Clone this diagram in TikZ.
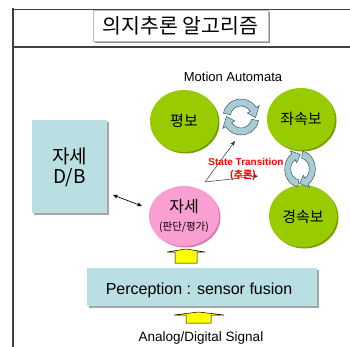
\documentclass[tikz,border=0pt]{standalone}
\usepackage{fontspec}
\setmainfont{Liberation Sans}
\newfontfamily\kr{Noto Sans CJK KR}
\usetikzlibrary{arrows.meta,shapes.geometric}
\definecolor{grn}{HTML}{99CC00}
\definecolor{grnd}{HTML}{7A9E00}
\definecolor{pnk}{HTML}{FA9FD2}
\definecolor{pnkd}{HTML}{D97AAE}
\definecolor{cyanbox}{HTML}{B9DFE3}
\definecolor{cycfill}{HTML}{A9CBD4}
\definecolor{cycline}{HTML}{3A5560}
\definecolor{ylw}{HTML}{FFFF00}
\definecolor{frame}{HTML}{404040}
\newcommand\cycarrow[5]{%
  \filldraw[cyc] (#1:#4) arc[start angle=#1, end angle=#2, radius=#4]
    -- (#2:{#4+3.5}) -- (#5:{(#3+#4)/2}) -- (#2:{#3-3.5}) -- (#2:#3)
    arc[start angle=#2, end angle=#1, radius=#3] -- cycle;}
\tikzset{
  ball/.style={ellipse, minimum width=68pt, minimum height=62pt, inner sep=0pt},
  cyc/.style={fill=cycfill, draw=cycline, line width=0.5pt},
  blk/.style={fill=ylw, draw=black, line width=0.5pt},
  thin arrow/.style={draw=black!80, line width=0.5pt, -{Stealth[length=5pt,width=4pt]}},
}
\begin{document}
\begin{tikzpicture}[x=1pt,y=-1pt]
\useasboundingbox (0,0) rectangle (350,347);
\fill[white] (0,0) rectangle (350,347);
% frame
\draw[frame, line width=0.8pt] (12,9) -- (350,9);
\draw[frame, line width=1.3pt] (12,47) -- (350,47);
\draw[frame, line width=2pt] (12.5,8.5) -- (12.5,347);
% title
\fill[black!45] (95,12) rectangle (270,43);
\filldraw[fill=white, draw=black!25, line width=0.6pt] (93,10) rectangle (268,41);
\node[font=\kr\fontsize{20.5}{21}\selectfont] (title) at (180.5,26) {의지추론 알고리즘};
% D/B box
\fill[black!35] (34,122) rectangle (109,215);
\fill[cyanbox] (32,120) rectangle (107,213);
\node[align=center, font=\kr\fontsize{19}{22}\selectfont] (db) at (69.5,167) {자세\\[-2pt]D/B};
% perception box
\fill[black!35] (89,270) rectangle (319,308);
\fill[cyanbox] (87,268) rectangle (317,306);
\node[font=\fontsize{16}{17}\selectfont] (perc) at (199,290) {Perception : sensor fusion};
% circles
\foreach \cx/\cy in {184/121, 301/119, 303/216}{
  \fill[grnd] (\cx+1.5,\cy+1.5) ellipse[x radius=34, y radius=31];
  \fill[grn] (\cx,\cy) ellipse[x radius=34, y radius=31];
}
\fill[pnkd] (185.5,217.5) ellipse[x radius=35, y radius=30];
\fill[pnk] (184,216) ellipse[x radius=35, y radius=30];
\node[ball, font=\kr\fontsize{15}{16}\selectfont] (pb) at (184,121) {평보};
\node[ball, font=\kr\fontsize{15}{16}\selectfont] (jsb) at (301,119) {좌속보};
\node[ball, font=\kr\fontsize{15}{16}\selectfont] (gsb) at (303,217) {경속보};
\node[ball, align=center, font=\kr\fontsize{16}{17}\selectfont] (pose) at (184,216) {자세\\[1pt]{\fontsize{10.5}{11}\selectfont (판단/평가)}};
% motion automata
\node[font=\fontsize{13}{14}\selectfont] (ma) at (233,77) {Motion Automata};
% cycle arrows horizontal
\begin{scope}[shift={(241,117)}, yscale=-1]
  \cycarrow{168}{32}{11}{18}{-2}
  \cycarrow{-12}{-148}{11}{18}{178}
\end{scope}
% cycle arrows vertical
\begin{scope}[shift={(300,169)}, yscale=-1, xscale=0.85]
  \cycarrow{262}{122}{11}{18}{88}
  \cycarrow{80}{-58}{11}{18}{-92}
\end{scope}
% state transition
\coordinate (st0) at (205,182);
\coordinate (st1) at (235,141);
\coordinate (st2) at (258,176);
\draw[thin arrow] (st0) -- (st1);
\draw[thin arrow] (st0) -- (st2);
\node[red, font=\bfseries\fontsize{10}{11}\selectfont] (st) at (246,162) {State Transition};
\node[red, font=\kr\bfseries\fontsize{10}{11}\selectfont] (stk) at (243,175) {(추론)};
% DB <-> pose
\coordinate (dbend) at (113,195);
\coordinate (poseend) at (142,206);
\draw[draw=black, line width=0.7pt, {Stealth[length=5pt,width=4pt]}-{Stealth[length=5pt,width=4pt]}] (dbend) -- (poseend);
% yellow block arrows
\filldraw[blk] (175,263) -- (175,252) -- (167,252) -- (186,249) -- (205,252) -- (197,252) -- (197,263) -- cycle;
\filldraw[blk] (186,323) -- (186,315) -- (174,315) -- (198.5,312) -- (224,315) -- (211,315) -- (211,323) -- cycle;
\node[font=\fontsize{13.5}{14}\selectfont] (sig) at (201,338) {Analog/Digital Signal};
\end{tikzpicture}
\end{document}
